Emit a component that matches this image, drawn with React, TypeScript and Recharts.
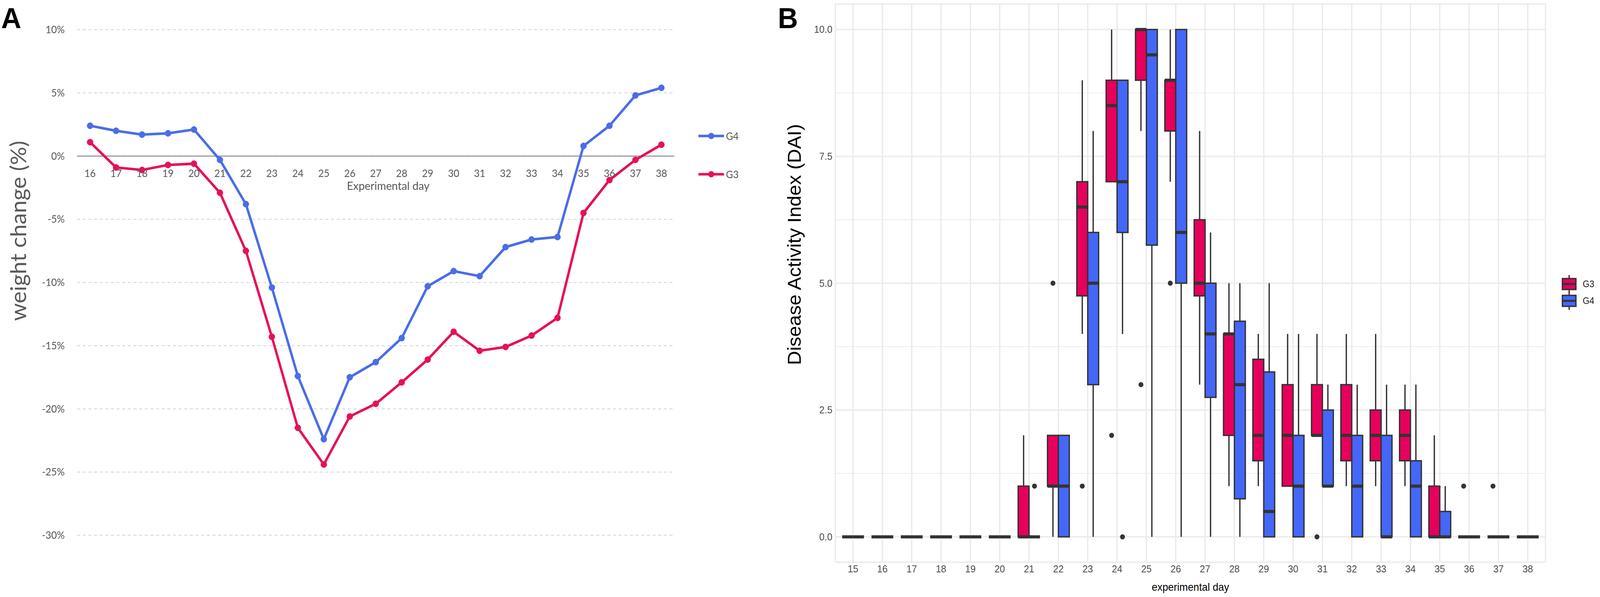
import React, { useLayoutEffect, useState } from 'react';
import {
  LineChart,
  ComposedChart,
  Line,
  Bar,
  XAxis,
  YAxis,
  CartesianGrid,
  ReferenceLine,
  Legend,
  LabelList,
} from 'recharts';

// panel A: weight change (%) per experimental day
const weightDays = ['16', '17', '18', '19', '20', '21', '22', '23', '24', '25', '26', '27', '28', '29', '30', '31', '32', '33', '34', '35', '36', '37', '38'];
const weightG4 = [2.4, 2.0, 1.7, 1.8, 2.1, -0.3, -3.8, -10.4, -17.4, -22.4, -17.5, -16.3, -14.4, -10.3, -9.1, -9.5, -7.2, -6.6, -6.4, 0.8, 2.4, 4.8, 5.4];
const weightG3 = [1.1, -0.9, -1.1, -0.7, -0.6, -2.9, -7.5, -14.3, -21.5, -24.4, -20.6, -19.6, -17.9, -16.1, -13.9, -15.4, -15.1, -14.2, -12.8, -4.5, -1.9, -0.3, 0.9];
const weightTicks = [-30, -25, -20, -15, -10, -5, 0, 5, 10];

// panel B: DAI boxplots, [min, q1, median, q3, max] per day
const daiDays = ['15', '16', '17', '18', '19', '20', '21', '22', '23', '24', '25', '26', '27', '28', '29', '30', '31', '32', '33', '34', '35', '36', '37', '38'];
const daiG3 = [
  [0, 0, 0, 0, 0], [0, 0, 0, 0, 0], [0, 0, 0, 0, 0], [0, 0, 0, 0, 0], [0, 0, 0, 0, 0], [0, 0, 0, 0, 0],
  [0, 0, 0, 1, 2], [0, 1, 1, 2, 2], [4, 4.75, 6.5, 7, 9], [7, 7, 8.5, 9, 10], [8, 9, 10, 10, 10], [7, 8, 9, 9, 10],
  [3, 4.75, 5, 6.25, 8], [1, 2, 4, 4, 5], [1, 1.5, 2, 3.5, 4], [1, 1, 2, 3, 4], [2, 2, 2, 3, 4], [1, 1.5, 2, 3, 4],
  [1, 1.5, 2, 2.5, 4], [1, 1.5, 2, 2.5, 3], [0, 0, 0, 1, 2], [0, 0, 0, 0, 0], [0, 0, 0, 0, 0], [0, 0, 0, 0, 0],
];
const daiG4 = [
  [0, 0, 0, 0, 0], [0, 0, 0, 0, 0], [0, 0, 0, 0, 0], [0, 0, 0, 0, 0], [0, 0, 0, 0, 0], [0, 0, 0, 0, 0],
  [0, 0, 0, 0, 0], [0, 0, 1, 2, 2], [0, 3, 5, 6, 8], [4, 6, 7, 9, 9], [0, 5.75, 9.5, 10, 10], [0, 5, 6, 10, 10],
  [0, 2.75, 4, 5, 6], [0, 0.75, 3, 4.25, 5], [0, 0, 0.5, 3.25, 5], [0, 0, 1, 2, 4], [1, 1, 1, 2.5, 3], [0, 0, 1, 2, 3],
  [0, 0, 0, 2, 3], [0, 0, 1, 1.5, 3], [0, 0, 0, 0.5, 1], [0, 0, 0, 0, 0], [0, 0, 0, 0, 0], [0, 0, 0, 0, 0],
];
// outliers as [day, value]
const outliersG3 = [['22', 5], ['23', 1], ['24', 2], ['25', 3], ['26', 5], ['31', 0], ['36', 1], ['37', 1]];
const outliersG4 = [['21', 1], ['24', 0]];
const daiTicks = [0, 2.5, 5, 7.5, 10];
const daiMinorTicks = [1.25, 3.75, 6.25, 8.75];

const PAGE_W = 4254;
const PAGE_H = 1528;

const BLUE_A = '#4A6DE8';
const RED_A = '#E6105C';
const G3_FILL = '#E6005C';
const G4_FILL = '#4467F8';
const INK = '#333333';
const GREY_TEXT = '#595959';

const weightData = weightDays.map((day, i) => ({ day, G4: weightG4[i], G3: weightG3[i] }));

const SEGMENTS = ['pad', 'gapLo', 'wLo', 'bLo', 'bHi', 'wHi', 'gapHi'];

function boxRow(stats: number[], outliers: any[], day: string, g: string) {
  const [mn, q1, md, q3, mx] = stats;
  const out = outliers.find((o) => o[0] === day);
  const lo = out && out[1] < mn ? out[1] : null;
  const hi = out && out[1] > mx ? out[1] : null;
  return {
    [`${g}_pad`]: lo ?? mn,
    [`${g}_gapLo`]: lo === null ? 0 : mn - lo,
    [`${g}_wLo`]: q1 - mn,
    [`${g}_bLo`]: md - q1,
    [`${g}_bHi`]: q3 - md,
    [`${g}_wHi`]: mx - q3,
    [`${g}_gapHi`]: hi === null ? 0 : hi - mx,
    [`${g}_lo`]: lo !== null,
    [`${g}_hi`]: hi !== null,
  };
}

const daiData = daiDays.map((day, i) => ({
  day,
  ...boxRow(daiG3[i], outliersG3, day, 'G3'),
  ...boxRow(daiG4[i], outliersG4, day, 'G4'),
}));

const groups = [
  { key: 'G3', fill: G3_FILL },
  { key: 'G4', fill: G4_FILL },
];

const segmentShape = (g: string, seg: string, fill: string) => (p: any) => {
  const { x, width, payload } = p;
  const top = Math.min(p.y, p.y + p.height);
  const h = Math.abs(p.height);
  const cx = x + width / 2;
  switch (seg) {
    case 'gapLo':
      return payload[`${g}_lo`] ? <circle cx={cx} cy={top + h} r={6.5} fill={INK} /> : <g />;
    case 'gapHi':
      return payload[`${g}_hi`] ? <circle cx={cx} cy={top} r={6.5} fill={INK} /> : <g />;
    case 'wLo':
    case 'wHi':
      return h > 0 ? <line x1={cx} x2={cx} y1={top} y2={top + h} stroke={INK} strokeWidth={3.5} /> : <g />;
    case 'bLo':
      return <rect x={x} y={top} width={width} height={h} fill={fill} stroke={INK} strokeWidth={3.5} />;
    case 'bHi':
      return (
        <g>
          <rect x={x} y={top} width={width} height={h} fill={fill} stroke={INK} strokeWidth={3.5} />
          <line x1={x} x2={x + width} y1={top + h} y2={top + h} stroke={INK} strokeWidth={8} />
        </g>
      );
    default:
      return <g />;
  }
};

const LegendA = ({ payload }: any) => {
  const order = ['G4', 'G3'];
  const items = (payload || []).filter((e: any) => order.includes(e.value))
    .sort((a: any, b: any) => order.indexOf(a.value) - order.indexOf(b.value));
  return (
    <svg width={130} height={150} style={{ display: 'block' }}>
      {items.map((entry: any, i: number) => {
        const cy = 28 + i * 98;
        return (
          <g key={entry.value}>
            <line x1={7} x2={75} y1={cy} y2={cy} stroke={entry.color} strokeWidth={6.5} />
            <circle cx={41} cy={cy} r={8} fill={entry.color} />
            <text x={80} y={cy} dominantBaseline="central" fontSize={26} fill={GREY_TEXT} fontFamily="Lato">
              {entry.value}
            </text>
          </g>
        );
      })}
    </svg>
  );
};

// legend keys for the boxplot panel
const LegendB = () => (
  <svg width={96} height={100} style={{ position: 'absolute', left: 4148, top: 695, display: 'block' }}>
    {groups.map((gr, i) => {
      const cy = 32 + i * 43;
      return (
        <g key={gr.key}>
          <line x1={24} x2={24} y1={cy - 23} y2={cy + 23} stroke={INK} strokeWidth={3.5} />
          <rect x={6} y={cy - 14} width={36} height={28} fill={gr.fill} stroke={INK} strokeWidth={3.5} />
          <line x1={6} x2={42} y1={cy} y2={cy} stroke={INK} strokeWidth={5} />
          <text x={60} y={cy} dominantBaseline="central" fontSize={23} fill="#1A1A1A" fontFamily="Liberation Sans">
            {gr.key}
          </text>
        </g>
      );
    })}
  </svg>
);

// shrink the page to the real viewport if the window is smaller than the figure
function useFit() {
  const [fit, setFit] = useState({ sx: 1, sy: 1 });
  useLayoutEffect(() => {
    const update = () => {
      const w = document.documentElement.clientWidth || window.innerWidth;
      const h = document.documentElement.clientHeight || window.innerHeight;
      setFit({ sx: Math.min(1, w / PAGE_W), sy: Math.min(1, h / PAGE_H) });
    };
    update();
    window.addEventListener('resize', update);
    return () => window.removeEventListener('resize', update);
  }, []);
  return fit;
}

const App: React.FC = () => {
  const { sx, sy } = useFit();
  return (
    <div
      style={{
        position: 'absolute',
        left: 0,
        top: 0,
        width: PAGE_W,
        height: PAGE_H,
        background: '#fff',
        fontFamily: 'Lato',
        transform: `scale(${sx}, ${sy})`,
        transformOrigin: '0 0',
      }}
    >
      <style>{'html, body { margin: 0; overflow: hidden; }'}</style>
      <div style={{ position: 'absolute', left: 0, top: 0 }}>
        <LineChart width={2080} height={1528} data={weightData} margin={{ top: 76, right: 287, bottom: 158, left: 0 }}>
          <CartesianGrid vertical={false} stroke="#D9D9D9" strokeWidth={2.5} strokeDasharray="8 7" />
          <XAxis dataKey="day" hide padding={{ left: 34.5, right: 34.5 }} />
          <YAxis
            width={205}
            domain={[-30, 10]}
            ticks={weightTicks}
            tickFormatter={(v: number) => `${v}%`}
            tick={{ fontSize: 26, fill: GREY_TEXT, fontFamily: 'Lato' }}
            tickLine={false}
            axisLine={false}
            tickSize={0}
            tickMargin={33}
            label={{
              content: ({ viewBox }: any) => {
                const cx = 47;
                const cy = viewBox.y + viewBox.height / 2 - 132;
                return (
                  <text
                    x={cx}
                    y={cy}
                    transform={`rotate(-90 ${cx} ${cy})`}
                    textAnchor="middle"
                    dominantBaseline="central"
                    fontSize={58}
                    fill={GREY_TEXT}
                    fontFamily="Lato"
                  >
                    weight change (%)
                  </text>
                );
              },
            }}
          />
          <ReferenceLine
            y={0}
            stroke="#8C8C8C"
            strokeWidth={2.5}
            label={{ value: 'Experimental day', position: 'bottom', offset: 66, dx: 33, fontSize: 29, fill: GREY_TEXT, fontFamily: 'Lato' } as any}
          />
          <Line dataKey={() => 0} stroke="none" dot={false} activeDot={false} legendType="none" isAnimationActive={false}>
            <LabelList dataKey="day" position="bottom" offset={35} fontSize={26} fill={GREY_TEXT} fontFamily="Lato" />
          </Line>
          <Line dataKey="G4" name="G4" stroke={BLUE_A} strokeWidth={6.5} dot={{ r: 8, fill: BLUE_A, stroke: BLUE_A, strokeWidth: 1 }} isAnimationActive={false} />
          <Line dataKey="G3" name="G3" stroke={RED_A} strokeWidth={6.5} dot={{ r: 8, fill: RED_A, stroke: RED_A, strokeWidth: 1 }} isAnimationActive={false} />
          <Legend layout="vertical" align="center" verticalAlign="middle" content={LegendA} wrapperStyle={{ left: 1850, top: 320, width: 130 }} />
        </LineChart>
      </div>

      <div style={{ position: 'absolute', left: 2080, top: 0 }}>
        <ComposedChart width={2174} height={1528} data={daiData} barGap={0} margin={{ top: 10.6, right: 145, bottom: 0, left: 0 }}>
          <CartesianGrid vertical={false} horizontalValues={daiMinorTicks} stroke="#EBEBEB" strokeWidth={1.8} />
          <CartesianGrid stroke="#EBEBEB" strokeWidth={3.5} />
          <XAxis
            dataKey="day"
            height={89}
            padding={{ left: 8, right: 8 }}
            tick={{ fontSize: 25, fill: '#4D4D4D', fontFamily: 'Liberation Sans' }}
            tickLine={false}
            axisLine={false}
            tickSize={0}
            tickMargin={8}
            label={{ value: 'experimental day', position: 'insideBottom', offset: 16, fontSize: 27, fill: '#000', fontFamily: 'Liberation Sans' }}
          />
          <YAxis
            width={141}
            domain={[-0.5, 10.5]}
            ticks={daiTicks}
            tickFormatter={(v: number) => v.toFixed(1)}
            tick={{ fontSize: 25, fill: '#4D4D4D', fontFamily: 'Liberation Sans' }}
            tickLine={false}
            axisLine={false}
            tickSize={0}
            tickMargin={8}
            label={{
              content: ({ viewBox }: any) => {
                const cx = 32;
                const cy = viewBox.y + viewBox.height / 2 - 99;
                return (
                  <text
                    x={cx}
                    y={cy}
                    transform={`rotate(-90 ${cx} ${cy})`}
                    textAnchor="middle"
                    dominantBaseline="central"
                    fontSize={50}
                    fill="#000"
                    fontFamily="Liberation Sans"
                  >
                    Disease Activity Index (DAI)
                  </text>
                );
              },
            }}
          />
          {groups.map((gr) =>
            SEGMENTS.map((seg) => (
              <Bar
                key={`${gr.key}_${seg}`}
                dataKey={`${gr.key}_${seg}`}
                stackId={gr.key}
                barSize={29}
                fill={gr.fill}
                legendType="none"
                shape={segmentShape(gr.key, seg, gr.fill)}
                isAnimationActive={false}
              />
            ))
          )}
        </ComposedChart>
      </div>

      <LegendB />

      <div style={{ position: 'absolute', left: 3, top: 4, fontFamily: 'Liberation Sans', fontWeight: 700, fontSize: 74, lineHeight: 'normal', color: '#000' }}>A</div>
      <div style={{ position: 'absolute', left: 2068, top: 4, fontFamily: 'Liberation Sans', fontWeight: 700, fontSize: 74, lineHeight: 'normal', color: '#000' }}>B</div>
    </div>
  );
};

export default App;
